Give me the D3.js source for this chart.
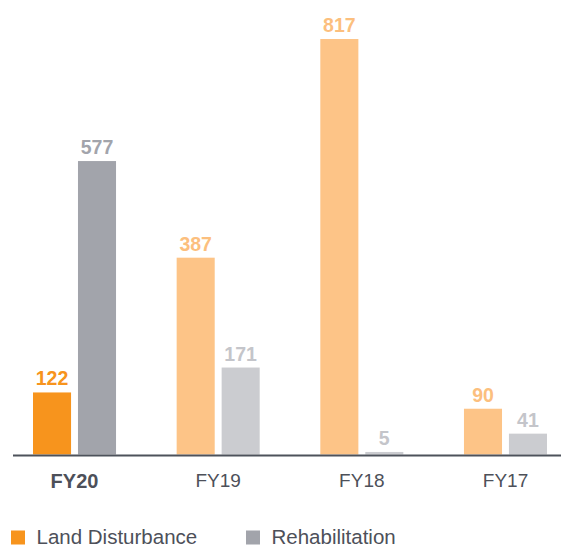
<!DOCTYPE html>
<html>
<head>
<meta charset="utf-8">
<script src="https://cdn.jsdelivr.net/npm/d3@7"></script>
<style>
  html, body { margin: 0; padding: 0; background: #fff; }
  svg { display: block; font-family: "Liberation Sans", Arial, sans-serif; }
</style>
</head>
<body>
<div id="chart"></div>
<script>
var years = ["FY20", "FY19", "FY18", "FY17"];
var landDisturbance = [122, 387, 817, 90];
var rehabilitation = [577, 171, 5, 41];
var seriesNames = ["Land Disturbance", "Rehabilitation"];
var currentYear = "FY20";

var width = 561,
    height = 548,
    baseline = 454.5;

var colors = {
  "Land Disturbance": { strong: "#f7941d", light: "#fdc487" },
  "Rehabilitation":   { strong: "#a2a4ab", light: "#cbccd0" }
};
var labelColors = {
  "Land Disturbance": { strong: "#f7941d", light: "#fcbf7e" },
  "Rehabilitation":   { strong: "#a2a4ab", light: "#c4c5ca" }
};

var rows = years.map(function(year, i) {
  return { year: year, values: [
    { series: seriesNames[0], value: landDisturbance[i], year: year },
    { series: seriesNames[1], value: rehabilitation[i], year: year }
  ] };
});

var svg = d3.select("#chart")
  .append("svg")
    .attr("width", width)
    .attr("height", height);

var x0 = d3.scaleBand()
  .domain(years)
  .range([33, 547])
  .paddingInner(0.422)
  .paddingOuter(0);

var x1 = d3.scaleBand()
  .domain(seriesNames)
  .range([0, x0.bandwidth()])
  .paddingInner(0.154);

var y = d3.scaleLinear()
  .domain([0, 817])
  .range([baseline, 39]);

function tone(d) { return d.year === currentYear ? "strong" : "light"; }

var groups = svg.selectAll("g.group")
  .data(rows)
  .enter()
    .append("g")
    .attr("class", "group")
    .attr("transform", function(d) { return "translate(" + x0(d.year) + ",0)"; });

groups.selectAll("rect")
  .data(function(d) { return d.values; })
  .enter()
    .append("rect")
    .attr("x", function(d) { return x1(d.series); })
    .attr("y", function(d) { return y(d.value); })
    .attr("width", x1.bandwidth())
    .attr("height", function(d) { return baseline - y(d.value); })
    .attr("fill", function(d) { return colors[d.series][tone(d)]; });

groups.selectAll("text.value")
  .data(function(d) { return d.values; })
  .enter()
    .append("text")
    .attr("class", "value")
    .attr("x", function(d) { return x1(d.series) + x1.bandwidth() / 2; })
    .attr("y", function(d) { return y(d.value) - 7; })
    .attr("text-anchor", "middle")
    .attr("font-size", "19.5px")
    .attr("font-weight", "bold")
    .attr("fill", function(d) { return labelColors[d.series][tone(d)]; })
    .text(function(d) { return d.value; });

// category axis
var xAxis = d3.axisBottom(x0)
  .tickSize(0)
  .tickPadding(19.5);

var axisG = svg.append("g")
  .attr("transform", "translate(0," + baseline + ")")
  .call(xAxis);
axisG.select(".domain").remove();
axisG.selectAll(".tick text")
  .attr("font-family", "'Liberation Sans', Arial, sans-serif")
  .attr("font-size", function(d) { return d === currentYear ? "20px" : "19px"; })
  .attr("fill", "#4d5059")
  .attr("font-weight", function(d) { return d === currentYear ? "bold" : "normal"; });

svg.append("line")
  .attr("x1", 13)
  .attr("x2", width)
  .attr("y1", baseline + 1)
  .attr("y2", baseline + 1)
  .attr("stroke", "#4d525b")
  .attr("stroke-width", 2);

// legend
var legendX = [11, 246];
var legend = svg.selectAll("g.legend")
  .data(seriesNames)
  .enter()
    .append("g")
    .attr("class", "legend")
    .attr("transform", function(d, i) { return "translate(" + legendX[i] + ",530.5)"; });

legend.append("rect")
  .attr("width", 14)
  .attr("height", 14)
  .attr("fill", function(d) { return colors[d].strong; });

legend.append("text")
  .attr("x", 25.5)
  .attr("y", 13)
  .attr("font-size", "20.5px")
  .attr("fill", "#4d5059")
  .text(function(d) { return d; });
</script>
</body>
</html>
